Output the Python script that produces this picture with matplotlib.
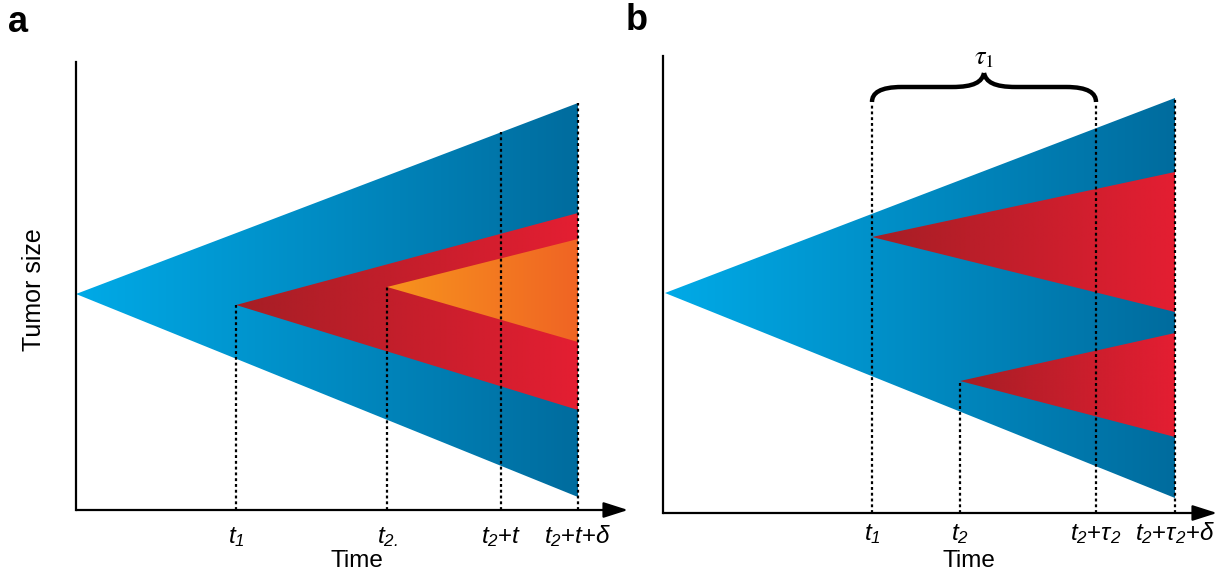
import numpy as np
import matplotlib
matplotlib.use("Agg")
import matplotlib.pyplot as plt
from matplotlib.patches import Polygon, PathPatch
from matplotlib.path import Path
from matplotlib.colors import LinearSegmentedColormap

plt.rcParams['font.family'] = ['Liberation Sans', 'DejaVu Sans']
plt.rcParams['mathtext.fontset'] = 'custom'
plt.rcParams['mathtext.it'] = 'Liberation Sans:italic'
plt.rcParams['mathtext.rm'] = 'Liberation Sans:italic'

# clone wedges: (apex time, apex size, end time, end top size, end bottom size)
A_BLUE = (0.00, 2.16, 5.02, 4.07, 0.13)
A_RED = (1.60, 2.05, 5.02, 2.97, 1.00)
A_ORANGE = (3.11, 2.23, 5.02, 2.71, 1.68)
A_TIMES = [1.60, 3.11, 4.25, 5.02]
A_DOT_TOP = [2.05, 2.23, 3.78, 4.07]
A_LABELS = [r'$t_1$', r'$t_{2.}$', r'$t_2$+$t$', r'$t_2$+$t$+$\delta$']

B_BLUE = (0.02, 2.20, 5.12, 4.15, 0.15)
B_RED1 = (2.09, 2.76, 5.12, 3.41, 2.01)
B_RED2 = (2.97, 1.32, 5.12, 1.80, 0.76)
B_TIMES = [2.09, 2.97, 4.33, 5.12]
B_DOT_TOP = [4.10, 1.32, 4.10, 4.15]
B_LABELS = [r'$t_1$', r'$t_2$', r'$t_2$+$\tau_2$', r'$t_2$+$\tau_2$+$\delta$']
B_BRACE = (2.09, 4.33)   # tau_1 span

BLUE = ('#00AAE7', '#006C9E')
RED = ('#A61E25', '#E41E32')
ORANGE = ('#F7941D', '#F06424')


def wedge(ax, w, cols, z):
    x0, y0, x1, yt, yb = w
    poly = Polygon([(x0, y0), (x1, yt), (x1, yb)], closed=True, fc='none', ec='none')
    ax.add_patch(poly)
    cmap = LinearSegmentedColormap.from_list('g', cols)
    g = np.linspace(0, 1, 256).reshape(1, -1)
    im = ax.imshow(g, cmap=cmap, extent=(x0, x1, yb, yt), aspect='auto',
                   origin='lower', interpolation='bilinear', zorder=z)
    im.set_clip_path(poly)


def axes_frame(ax, xmax, ymax):
    ax.set_xlim(0, xmax); ax.set_ylim(0, ymax); ax.axis('off')
    ax.plot([0, 0], [0, ymax], color='k', lw=1.6, clip_on=False, zorder=5)
    ax.annotate('', xy=(xmax, 0), xytext=(0, 0), zorder=5,
                arrowprops=dict(arrowstyle='-|>,head_length=1.0,head_width=0.32',
                                color='k', lw=1.6, shrinkA=0, shrinkB=0, mutation_scale=15))


def dots(ax, times, tops, labels, ylab, ytime, xtime):
    for t, top, lab in zip(times, tops, labels):
        ax.plot([t, t], [0, top], color='k', lw=1.6, ls=(0, (1.3, 1.3)), zorder=4)
        ax.text(t, ylab, lab, ha='center', va='baseline', fontsize=17.5, clip_on=False)
    ax.text(xtime, ytime, 'Time', ha='center', va='baseline', fontsize=17.5, clip_on=False)


W, H = 1231, 583
fig = plt.figure(figsize=(W / 100, H / 100), dpi=100)

# panel a
axa = fig.add_axes([76 / W, (H - 510) / H, 552 / W, 448 / H])
wedge(axa, A_BLUE, BLUE, 1)
wedge(axa, A_RED, RED, 2)
wedge(axa, A_ORANGE, ORANGE, 3)
axes_frame(axa, 5.52, 4.48)
dots(axa, A_TIMES, A_DOT_TOP, A_LABELS, -0.33, -0.57, 2.81)
axa.text(-0.42, 2.20, 'Tumor size', rotation=90, ha='center', va='center', fontsize=18)

# panel b
axb = fig.add_axes([663 / W, (H - 513) / H, 554 / W, 457 / H])
wedge(axb, B_BLUE, BLUE, 1)
wedge(axb, B_RED1, RED, 2)
wedge(axb, B_RED2, RED, 2)
axes_frame(axb, 5.54, 4.57)
dots(axb, B_TIMES, B_DOT_TOP, B_LABELS, -0.27, -0.54, 3.06)

# brace over tau_1
x0, x1 = B_BRACE
xm = (x0 + x1) / 2
yb, yf, yt = 4.11, 4.26, 4.40
verts = [(x0, yb), (x0, yb + 0.09), (x0 + 0.08, yf), (x0 + 0.30, yf),
         (xm - 0.32, yf), (xm - 0.10, yf), (xm - 0.02, yf + 0.05), (xm, yt),
         (xm, yt), (xm + 0.02, yf + 0.05), (xm + 0.10, yf), (xm + 0.32, yf),
         (x1 - 0.30, yf), (x1 - 0.08, yf), (x1, yb + 0.09), (x1, yb)]
codes = [Path.MOVETO, Path.CURVE4, Path.CURVE4, Path.CURVE4,
         Path.LINETO, Path.CURVE4, Path.CURVE4, Path.CURVE4,
         Path.MOVETO, Path.CURVE4, Path.CURVE4, Path.CURVE4,
         Path.LINETO, Path.CURVE4, Path.CURVE4, Path.CURVE4]
axb.add_patch(PathPatch(Path(verts, codes), fc='none', ec='k', lw=3.2, capstyle='butt',
                        joinstyle='miter', clip_on=False, zorder=5))
axb.text(xm, 4.55, r'$\tau_1$', ha='center', va='center', fontsize=19, clip_on=False,
         math_fontfamily='stix')

fig.text(18 / W, 1 - 23 / H, 'a', fontsize=26, fontweight='bold', ha='center', va='center')
fig.text(637 / W, 1 - 20 / H, 'b', fontsize=26, fontweight='bold', ha='center', va='center')

fig.savefig('out.png', dpi=100)
